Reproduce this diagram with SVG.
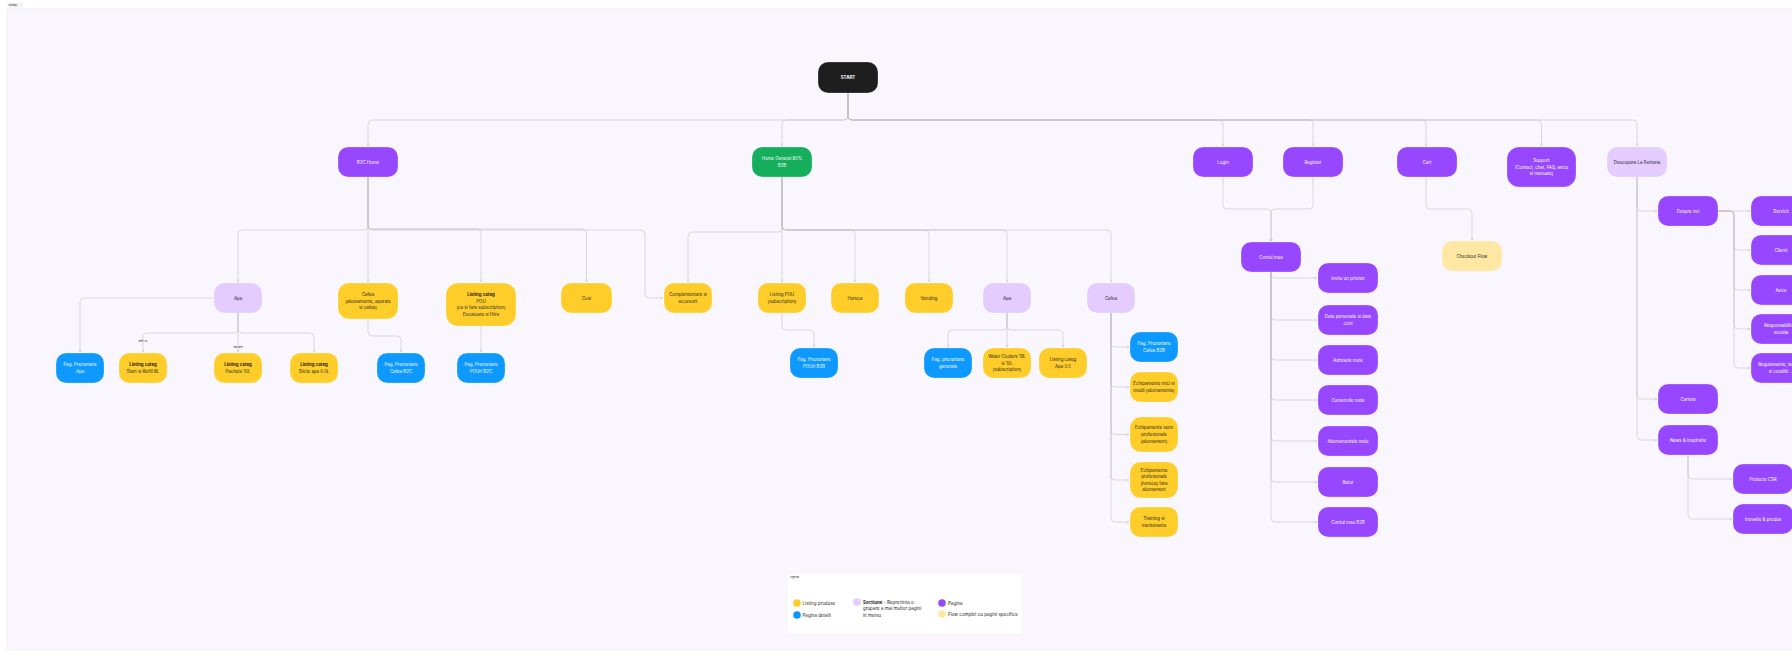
<svg xmlns="http://www.w3.org/2000/svg" width="1792" height="658" viewBox="0 0 1792 658">
<defs>
<marker id="arr" viewBox="0 0 6 6" refX="5.5" refY="3" markerWidth="3" markerHeight="3" orient="auto" markerUnits="userSpaceOnUse">
<path d="M0.5,0.5 L5.5,3 L0.5,5.5" fill="none" stroke="#c2c0ca" stroke-width="0.9"/>
</marker>
<style>
.bg{fill:#ffffff}
.frame{fill:#f9f7fd;stroke:#ebe6f3;stroke-width:0.6}
.n rect{stroke:#ffffff;stroke-opacity:0.5;stroke-width:0.5}
.pu rect{fill:#9747ff}
.la rect{fill:#e4ccff}
.ye rect{fill:#ffcd29}
.bl rect{fill:#0d99ff}
.gr rect{fill:#14ae5c}
.bk rect{fill:#1e1e1e}
.pa rect{fill:#ffe8a3}
.n text{font-family:Inter,"Liberation Sans",Arial,sans-serif;font-size:4.4px;text-anchor:middle}
.pu text,.bl text,.gr text,.bk text{fill:#ffffff}
.la text,.ye text,.pa text{fill:#1e1e1e}
.b{font-weight:700}
#connectors path{fill:none;stroke:#c2c0ca;stroke-width:0.6;marker-end:url(#arr)}
#connectors path.nm{marker-end:none}
.el{font-family:Inter,"Liberation Sans",Arial,sans-serif;font-size:2.4px;fill:#1e1e1e;text-anchor:middle}
.lg{font-family:Inter,"Liberation Sans",Arial,sans-serif;font-size:4.5px;fill:#1e1e1e}
.tiny{font-family:Inter,"Liberation Sans",Arial,sans-serif;font-size:2.2px;fill:#1e1e1e}
</style>
</defs>
<rect class="bg" x="0" y="0" width="1792" height="658"/>
<rect x="7" y="2.5" width="16" height="5" rx="1" fill="#f3f3f3"/>
<text class="tiny" x="8.5" y="5.8">Sitemap</text>
<rect class="frame" x="7" y="9" width="1800" height="641" rx="1"/>

<g id="connectors">
<!-- START bus -->
<path d="M848,93 V116 A4,4 0 0 1 844,120 H372 A4,4 0 0 0 368,124 V146"/>
<path d="M848,93 V116 A4,4 0 0 1 844,120 H786 A4,4 0 0 0 782,124 V146"/>
<path d="M848,93 V116 A4,4 0 0 0 852,120 H1219 A4,4 0 0 1 1223,124 V146"/>
<path d="M848,93 V116 A4,4 0 0 0 852,120 H1309 A4,4 0 0 1 1313,124 V146"/>
<path d="M848,93 V116 A4,4 0 0 0 852,120 H1422 A4,4 0 0 1 1426,124 V146"/>
<path d="M848,93 V116 A4,4 0 0 0 852,120 H1537.5 A4,4 0 0 1 1541.5,124 V146"/>
<path d="M848,93 V116 A4,4 0 0 0 852,120 H1633 A4,4 0 0 1 1637,124 V146"/>
<!-- B2C -->
<path d="M368,177 V226 A4,4 0 0 1 364,230 H242 A4,4 0 0 0 238,234 V282"/>
<path d="M368,177 V282"/>
<path d="M368,177 V225 A4,4 0 0 0 372,229 H477 A4,4 0 0 1 481,233 V282"/>
<path d="M368,177 V225 A4,4 0 0 0 372,229 H582.5 A4,4 0 0 1 586.5,233 V282"/>
<path d="M368,177 V226 A4,4 0 0 0 372,230 H641 A4,4 0 0 1 645,234 V294 A4,4 0 0 0 649,298 H663"/>
<!-- Apa B2C -->
<path d="M214,298 H84 A4,4 0 0 0 80,302 V352"/>
<path d="M238,313 V329 A4,4 0 0 1 234,333 H147 A4,4 0 0 0 143,337 V352"/>
<path d="M238,313 V352"/>
<path d="M238,313 V329 A4,4 0 0 0 242,333 H310 A4,4 0 0 1 314,337 V352"/>
<path d="M368,319 V332 A4,4 0 0 0 372,336 H397 A4,4 0 0 1 401,340 V352"/>
<path d="M481,326 V352"/>
<!-- B2B -->
<path d="M782,177 V228 A4,4 0 0 1 778,232 H692 A4,4 0 0 0 688,236 V282"/>
<path d="M782,177 V282"/>
<path d="M782,177 V226 A4,4 0 0 0 786,230 H851 A4,4 0 0 1 855,234 V282"/>
<path d="M782,177 V226 A4,4 0 0 0 786,230 H925 A4,4 0 0 1 929,234 V282"/>
<path d="M782,177 V226 A4,4 0 0 0 786,230 H1003 A4,4 0 0 1 1007,234 V282"/>
<path d="M782,177 V226 A4,4 0 0 0 786,230 H1107 A4,4 0 0 1 1111,234 V282"/>
<path d="M782,313 V326 A4,4 0 0 0 786,330 H810 A4,4 0 0 1 814,334 V347"/>
<path d="M1007,313 V326 A4,4 0 0 1 1003,330 H952 A4,4 0 0 0 948,334 V347"/>
<path d="M1007,313 V347"/>
<path d="M1007,313 V326 A4,4 0 0 0 1011,330 H1059 A4,4 0 0 1 1063,334 V347"/>
<!-- Cafea B2B -->
<path d="M1111,313 V343 A4,4 0 0 0 1115,347 H1129"/>
<path d="M1111,313 V383 A4,4 0 0 0 1115,387 H1129"/>
<path d="M1111,313 V430.5 A4,4 0 0 0 1115,434.5 H1129"/>
<path d="M1111,313 V476 A4,4 0 0 0 1115,480 H1129"/>
<path d="M1111,313 V518 A4,4 0 0 0 1115,522 H1129"/>
<!-- Login/Register -->
<path d="M1223,177 V205 A4,4 0 0 0 1227,209 H1267 A4,4 0 0 1 1271,213 V241"/>
<path d="M1313,177 V205 A4,4 0 0 1 1309,209 H1275 A4,4 0 0 0 1271,213 V241"/>
<!-- Contul meu -->
<path d="M1271,272 V274 A4,4 0 0 0 1275,278 H1317"/>
<path d="M1271,272 V316 A4,4 0 0 0 1275,320 H1317"/>
<path d="M1271,272 V356 A4,4 0 0 0 1275,360 H1317"/>
<path d="M1271,272 V396 A4,4 0 0 0 1275,400 H1317"/>
<path d="M1271,272 V437 A4,4 0 0 0 1275,441 H1317"/>
<path d="M1271,272 V478 A4,4 0 0 0 1275,482 H1317"/>
<path d="M1271,272 V518 A4,4 0 0 0 1275,522 H1317"/>
<!-- Cart -->
<path d="M1426,177 V205 A4,4 0 0 0 1430,209 H1468 A4,4 0 0 1 1472,213 V240"/>
<!-- Descopera -->
<path d="M1637,177 V207 A4,4 0 0 0 1641,211 H1657"/>
<path d="M1637,177 V395 A4,4 0 0 0 1641,399 H1657"/>
<path d="M1637,177 V436 A4,4 0 0 0 1641,440 H1657"/>
<!-- Despre noi -->
<path d="M1718,211 H1750"/>
<path d="M1718,211 H1730 A4,4 0 0 1 1734,215 V246 A4,4 0 0 0 1738,250 H1750"/>
<path d="M1718,211 H1730 A4,4 0 0 1 1734,215 V286 A4,4 0 0 0 1738,290 H1750"/>
<path d="M1718,211 H1730 A4,4 0 0 1 1734,215 V325 A4,4 0 0 0 1738,329 H1750"/>
<path d="M1718,211 H1730 A4,4 0 0 1 1734,215 V364 A4,4 0 0 0 1738,368 H1750"/>
<!-- News -->
<path d="M1688,455 V475 A4,4 0 0 0 1692,479 H1732"/>
<path d="M1688,455 V515 A4,4 0 0 0 1692,519 H1732"/>
<!-- edge labels -->
<rect x="138.5" y="339.6" width="9" height="2.8" fill="#f9f7fd"/>
<text class="el" x="143" y="341.8">Refill 8L</text>
<rect x="233" y="345.6" width="10" height="2.8" fill="#f9f7fd"/>
<text class="el" x="238" y="347.8">Pachete</text>
</g>

<g id="start" class="n bk"><rect x="818" y="62" width="60" height="31" rx="10"/><text class="b" x="848" y="79.05">START</text></g>
<g id="b2c-home" class="n pu"><rect x="338" y="147" width="60" height="30" rx="10"/><text x="368" y="163.6">B2C Home</text></g>
<g id="home-b2b" class="n gr"><rect x="752" y="147" width="60" height="30" rx="10"/><text x="782" y="160.25">Home General 80%</text><text x="782" y="166.85">B2B</text></g>
<g id="login" class="n pu"><rect x="1193" y="147" width="60" height="30" rx="10"/><text x="1223" y="163.6">Login</text></g>
<g id="register" class="n pu"><rect x="1283" y="147" width="60" height="30" rx="10"/><text x="1313" y="163.6">Register</text></g>
<g id="cart" class="n pu"><rect x="1397" y="147" width="60" height="30" rx="10"/><text x="1427" y="163.6">Cart</text></g>
<g id="support" class="n pu"><rect x="1507" y="147" width="69" height="40" rx="12"/><text x="1541.5" y="161.95">Support</text><text x="1541.5" y="168.55">(Contact, chat, FAQ, avize</text><text x="1541.5" y="175.15">si manuale)</text></g>
<g id="descopera" class="n la"><rect x="1607" y="147" width="60" height="30" rx="10"/><text x="1637" y="163.6">Descopera La Fantana</text></g>

<g id="apa-b2c" class="n la"><rect x="214" y="283" width="48" height="30" rx="10"/><text x="238" y="299.55">Apa</text></g>
<g id="cafea-b2c" class="n ye"><rect x="338" y="283" width="60" height="36" rx="11"/><text x="368" y="295.95">Cafea</text><text x="368" y="302.55">(abonamente, aparate</text><text x="368" y="309.15">si cafea)</text></g>
<g id="listing-pou-b2c" class="n ye"><rect x="446" y="283" width="70" height="43" rx="12"/><text class="b" x="481" y="296.15">Listing categ</text><text x="481" y="302.75">POU</text><text x="481" y="309.35">(ca si fara subscription)</text><text x="481" y="315.95">Dozatoare si filtre</text></g>
<g id="cosi" class="n ye"><rect x="561" y="283" width="51" height="30" rx="10"/><text x="586.5" y="299.55">Cosi</text></g>
<g id="complementare" class="n ye"><rect x="664" y="283" width="48" height="30" rx="10"/><text x="688" y="296.25">Complementare si</text><text x="688" y="302.85">accesorii</text></g>
<g id="listing-pou-b2b" class="n ye"><rect x="758" y="283" width="48" height="30" rx="10"/><text x="782" y="296.25">Listing POU</text><text x="782" y="302.85">(subscription)</text></g>
<g id="horeca" class="n ye"><rect x="831" y="283" width="48" height="30" rx="10"/><text x="855" y="299.55">Horeca</text></g>
<g id="vending" class="n ye"><rect x="905" y="283" width="48" height="30" rx="10"/><text x="929" y="299.55">Vending</text></g>
<g id="apa-b2b" class="n la"><rect x="983" y="283" width="48" height="30" rx="10"/><text x="1007" y="299.55">Apa</text></g>
<g id="cafea-b2b" class="n la"><rect x="1087" y="283" width="48" height="30" rx="10"/><text x="1111" y="299.55">Cafea</text></g>

<g id="pag-apa" class="n bl"><rect x="56" y="353" width="48" height="30" rx="10"/><text x="80" y="366.25">Pag. Prezentare</text><text x="80" y="372.85">Apa</text></g>
<g id="listing-start" class="n ye"><rect x="119" y="353" width="48" height="30" rx="10"/><text class="b" x="143" y="366.25">Listing categ</text><text x="143" y="372.85">Start si Refill 8L</text></g>
<g id="listing-pachete" class="n ye"><rect x="214" y="353" width="48" height="30" rx="10"/><text class="b" x="238" y="366.25">Listing categ</text><text x="238" y="372.85">Pachete 10L</text></g>
<g id="listing-sticle" class="n ye"><rect x="290" y="353" width="48" height="30" rx="10"/><text class="b" x="314" y="366.25">Listing categ</text><text x="314" y="372.85">Sticle apa 0.5L</text></g>
<g id="pag-cafea-b2c" class="n bl"><rect x="377" y="353" width="48" height="30" rx="10"/><text x="401" y="366.25">Pag. Prezentare</text><text x="401" y="372.85">Cafea B2C</text></g>
<g id="pag-pou-b2c" class="n bl"><rect x="457" y="353" width="48" height="30" rx="10"/><text x="481" y="366.25">Pag. Prezentare</text><text x="481" y="372.85">POUri B2C</text></g>
<g id="pag-pou-b2b" class="n bl"><rect x="790" y="348" width="48" height="30" rx="10"/><text x="814" y="361.25">Pag. Prezentare</text><text x="814" y="367.85">POUri B2B</text></g>
<g id="pag-generala" class="n bl"><rect x="924" y="348" width="48" height="30" rx="10"/><text x="948" y="361.25">Pag. prezentare</text><text x="948" y="367.85">generala</text></g>
<g id="water-coolers" class="n ye"><rect x="983" y="348" width="48" height="30" rx="10"/><text x="1007" y="357.95">Water Coolers 19L</text><text x="1007" y="364.55">si 10L</text><text x="1007" y="371.15">(subscription)</text></g>
<g id="listing-apa05" class="n ye"><rect x="1039" y="348" width="48" height="30" rx="10"/><text x="1063" y="361.25">Listing categ</text><text x="1063" y="367.85">Apa 0.5</text></g>

<g id="pag-cafea-b2b" class="n bl"><rect x="1130" y="332" width="48" height="30" rx="10"/><text x="1154" y="345.25">Pag. Prezentare</text><text x="1154" y="351.85">Cafea B2B</text></g>
<g id="ech-mici" class="n ye"><rect x="1130" y="372" width="48" height="30" rx="10"/><text x="1154" y="385.25">Echipamente mici si</text><text x="1154" y="391.85">medii (abonamente)</text></g>
<g id="ech-semi" class="n ye"><rect x="1130" y="417" width="48" height="35" rx="11"/><text x="1154" y="429.45">Echipamente semi</text><text x="1154" y="436.05">profesionale</text><text x="1154" y="442.65">(abonament)</text></g>
<g id="ech-prof" class="n ye"><rect x="1130" y="462" width="48" height="36" rx="11"/><text x="1154" y="471.65">Echipamente</text><text x="1154" y="478.25">profesionale</text><text x="1154" y="484.85">(horeca) fara</text><text x="1154" y="491.45">abonament</text></g>
<g id="training" class="n ye"><rect x="1130" y="507" width="48" height="30" rx="10"/><text x="1154" y="520.25">Training si</text><text x="1154" y="526.85">mentenanta</text></g>

<g id="contul-meu" class="n pu"><rect x="1241" y="242" width="60" height="30" rx="10"/><text x="1271" y="258.55">Contul meu</text></g>
<g id="invita" class="n pu"><rect x="1318" y="263" width="60" height="30" rx="10"/><text x="1348" y="279.55">Invita un prieten</text></g>
<g id="date-personale" class="n pu"><rect x="1318" y="305" width="60" height="30" rx="10"/><text x="1348" y="318.25">Date personale si date</text><text x="1348" y="324.85">cont</text></g>
<g id="adrese" class="n pu"><rect x="1318" y="345" width="60" height="30" rx="10"/><text x="1348" y="361.55">Adresele mele</text></g>
<g id="comenzi" class="n pu"><rect x="1318" y="385" width="60" height="30" rx="10"/><text x="1348" y="401.55">Comenzile mele</text></g>
<g id="abonamente" class="n pu"><rect x="1318" y="426" width="60" height="30" rx="10"/><text x="1348" y="442.55">Abonamentele mele</text></g>
<g id="retur" class="n pu"><rect x="1318" y="467" width="60" height="30" rx="10"/><text x="1348" y="483.55">Retur</text></g>
<g id="contul-b2b" class="n pu"><rect x="1318" y="507" width="60" height="30" rx="10"/><text x="1348" y="523.55">Contul meu B2B</text></g>

<g id="checkout" class="n pa"><rect x="1442" y="241" width="60" height="30" rx="10"/><text x="1472" y="257.55">Checkout Flow</text></g>

<g id="despre-noi" class="n pu"><rect x="1658" y="196" width="60" height="30" rx="10"/><text x="1688" y="212.55">Despre noi</text></g>
<g id="cariera" class="n pu"><rect x="1658" y="384" width="60" height="30" rx="10"/><text x="1688" y="400.55">Cariera</text></g>
<g id="news" class="n pu"><rect x="1658" y="425" width="60" height="30" rx="10"/><text x="1688" y="441.55">News &amp; Inspiratie</text></g>
<g id="servicii" class="n pu"><rect x="1751" y="196" width="60" height="30" rx="10"/><text x="1781" y="212.55">Servicii</text></g>
<g id="clienti" class="n pu"><rect x="1751" y="235" width="60" height="30" rx="10"/><text x="1781" y="251.55">Clienti</text></g>
<g id="avize" class="n pu"><rect x="1751" y="275" width="60" height="30" rx="10"/><text x="1781" y="291.55">Avize</text></g>
<g id="responsabilitate" class="n pu"><rect x="1751" y="314" width="60" height="30" rx="10"/><text x="1781" y="327.25">Responsabilitate</text><text x="1781" y="333.85">sociala</text></g>
<g id="regulamente" class="n pu"><rect x="1751" y="353" width="60" height="30" rx="10"/><text x="1781" y="366.25">Regulamente, termeni</text><text x="1781" y="372.85">si conditii ... </text></g>
<g id="proiecte-csr" class="n pu"><rect x="1733" y="464" width="60" height="30" rx="10"/><text x="1763" y="480.55">Proiecte CSR</text></g>
<g id="inovatie" class="n pu"><rect x="1733" y="504" width="60" height="30" rx="10"/><text x="1763" y="520.55">Inovatie &amp; produs</text></g>

<g id="legend">
<rect x="788" y="574" width="234" height="59" rx="1" fill="#ffffff"/>
<rect x="789" y="575.5" width="9" height="3.5" rx="0.6" fill="#ffffff" stroke="#ececec" stroke-width="0.3"/>
<text class="tiny" x="790" y="577.9">Legenda</text>
<circle cx="797" cy="603" r="3.8" fill="#ffcd29"/>
<text class="lg" x="802.5" y="604.6">Listing produse</text>
<circle cx="797" cy="615" r="3.8" fill="#0d99ff"/>
<text class="lg" x="802.5" y="616.6">Pagina detalii</text>
<circle cx="857" cy="602" r="3.8" fill="#e4ccff"/>
<text class="lg" x="863" y="603.6"><tspan font-weight="700">Sectiune</tspan> - Reprezinta o</text>
<text class="lg" x="863" y="610.4">grupare a mai multor pagini</text>
<text class="lg" x="863" y="617.2">in meniu</text>
<circle cx="942" cy="603" r="3.8" fill="#9747ff"/>
<text class="lg" x="948" y="604.6">Pagina</text>
<circle cx="942" cy="614" r="3.8" fill="#ffe8a3"/>
<text class="lg" x="948" y="615.6">Flow complet cu pagini specifice</text>
</g>
</svg>
